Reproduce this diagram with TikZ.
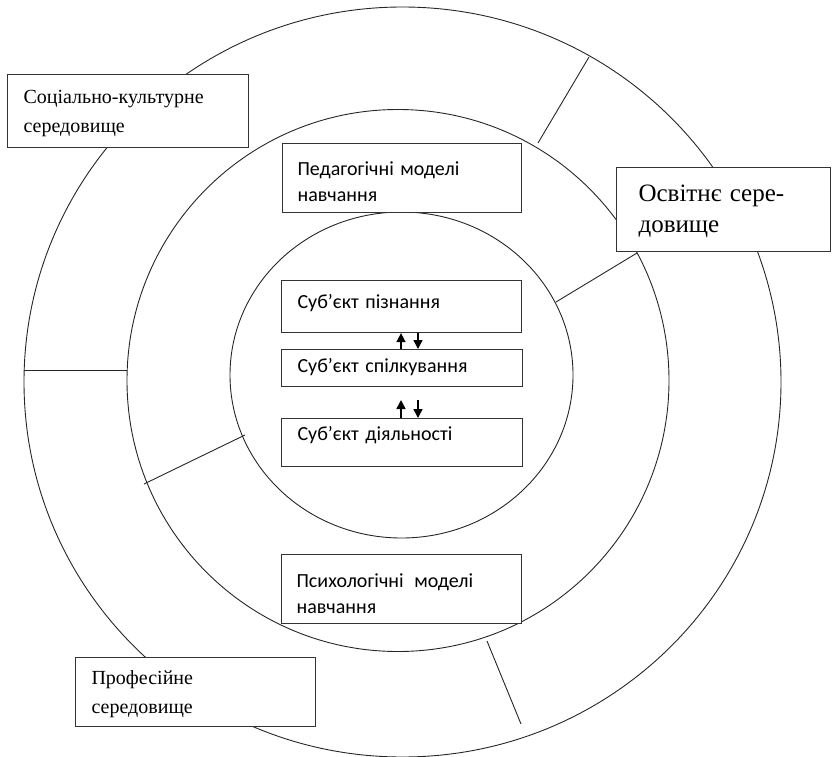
\documentclass[tikz,border=0pt]{standalone}
\usepackage{fontspec}
\setmainfont{Liberation Serif}
\newfontfamily\calib{Carlito}
\usetikzlibrary{arrows.meta}
\tikzset{
  ring/.style={draw=black!85, line width=0.9pt},
  spoke/.style={draw=black!85, line width=0.9pt},
  box/.style={draw=black!80, fill=white, line width=1.1pt, anchor=north west,
    inner ysep=0pt, align=left},
  bx/.style n args={4}{text width=#1, text height=#2, text depth=#3, inner xsep=#4},
  serif/.style={font=\fontsize{20pt}{29pt}\selectfont},
  bigserif/.style={font=\fontsize{25pt}{31pt}\selectfont},
  sans/.style={font=\calib\fontsize{20pt}{26pt}\selectfont},
  tip/.style={-{Triangle[width=9pt,length=9pt]}, line width=1.5pt}
}
\begin{document}
\begin{tikzpicture}[x=1pt,y=-1pt]
\useasboundingbox (0,0) rectangle (832,757);
% circles
\draw[ring] (402.5,382) ellipse [x radius=378.5pt, y radius=375pt];
\draw[ring] (398,380.5) ellipse [x radius=271pt, y radius=271pt];
\draw[ring] (401.5,375) ellipse [x radius=171.5pt, y radius=163pt];
% spokes
\coordinate (s1a) at (538,143); \coordinate (s1b) at (589,57);
\coordinate (s2a) at (24,370);  \coordinate (s2b) at (127,370);
\coordinate (s3a) at (144,484); \coordinate (s3b) at (245,435);
\coordinate (s4a) at (556,302); \coordinate (s4b) at (637,253);
\coordinate (s5a) at (487,641); \coordinate (s5b) at (521,724);
\draw[spoke] (s1a) -- (s1b);
\draw[spoke] (s2a) -- (s2b);
\draw[spoke] (s3a) -- (s3b);
\draw[spoke] (s4a) -- (s4b);
\draw[spoke] (s5a) -- (s5b);
% boxes
\node[box, serif, bx={209pt}{29pt}{44pt}{16pt}] (soc) at (7,74)
  {Соціально-культурне\\середовище};
\node[box, sans, bx={209pt}{32pt}{37pt}{15pt}] (ped) at (282,143)
  {Педагогічні моделі\\навчання};
\node[box, bigserif, bx={170pt}{34pt}{50pt}{22pt}] (osv) at (616,167)
  {Освітнє сере-\\довище};
\node[box, sans, bx={208pt}{28pt}{24pt}{16pt}] (s1) at (281,280)
  {Суб’єкт пізнання};
\node[box, sans, bx={209pt}{23pt}{14pt}{16pt}] (s2) at (281,349)
  {Суб’єкт спілкування};
\node[box, sans, bx={209pt}{22pt}{26pt}{16pt}] (s3) at (281,418)
  {Суб’єкт діяльності};
\node[box, sans, bx={210pt}{33pt}{36pt}{15pt}] (psy) at (281,554)
  {Психологічні\hspace{0.2em} моделі\\навчання};
\node[box, serif, bx={208pt}{27pt}{42pt}{16pt}] (prof) at (75,657)
  {Професійне\\середовище};
% arrows
\coordinate (up) at (401,0);
\coordinate (dn) at (418,0);
\coordinate (u2) at (401,400);
\coordinate (d2) at (418,400);
\draw[tip] (s2.north -| up) -- (s1.south -| up);
\draw[tip] (s1.south -| dn) -- (s2.north -| dn);
\draw[tip] (s3.north -| up) -- (u2);
\draw[tip] (d2) -- (s3.north -| dn);
\end{tikzpicture}
\end{document}
